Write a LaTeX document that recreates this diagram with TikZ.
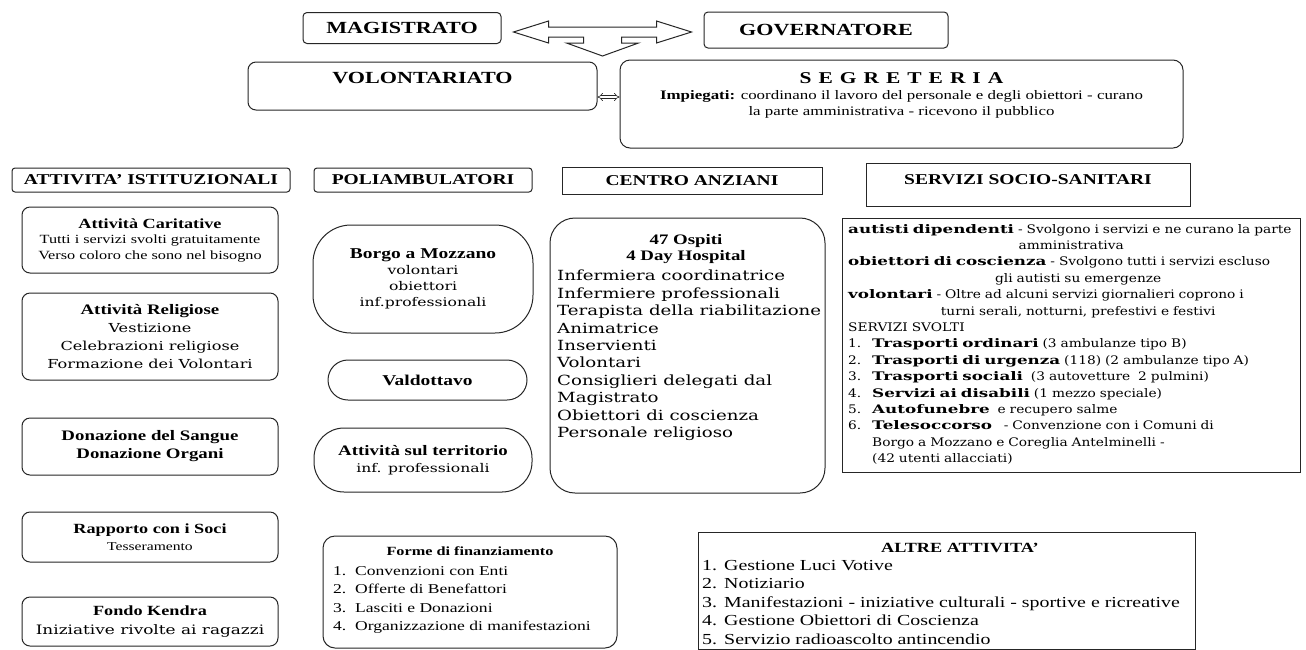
\documentclass[tikz,border=0pt]{standalone}
\usepackage{fontspec}
\setmainfont[FakeStretch=1.3]{Liberation Serif}
\newfontfamily\bkfont[FakeStretch=1.3]{DejaVu Serif}
\newfontfamily\svfont[FakeStretch=1.165]{DejaVu Serif}
\newfontfamily\svbold[FakeStretch=1.42]{DejaVu Serif Bold}
\usetikzlibrary{arrows.meta,positioning,calc}
\setlength{\parindent}{0pt}
\newcommand{\fsz}[2]{\fontsize{#1pt}{#2pt}\selectfont}
\newcommand{\numlbl}[2][22pt]{\makebox[#1][l]{#2}}
\newcommand{\svb}[1]{{\svbold #1}}
\newcommand{\ctrline}[1]{\makebox[\linewidth][c]{#1}}

\begin{document}
\begin{tikzpicture}[x=1pt, y=-1pt,
  rbox/.style={draw=black!85, line width=1pt, rounded corners=#1, align=center, inner sep=0pt},
  rbox/.default=6pt,
  sbox/.style={draw=black!85, line width=1pt, align=center, inner sep=0pt},
  txt/.style={inner sep=0pt, align=center},
  ttl/.style={font=\fsz{17}{20}\bfseries},
  hdr/.style={font=\fsz{15}{18}\bfseries},
  blk/.style={draw=black!85, line width=1pt, line join=miter, fill=white},
  dbl/.style={draw=black!85, double, double distance=2.2pt, line width=0.6pt, {Implies}-{Implies}}
]
  \path[fill=white, use as bounding box] (0,0) rectangle (1306,649);

  % Vertice
  \node[rbox=4pt, ttl, minimum width=198pt, minimum height=31pt] (magi) at (402,28) {MAGISTRATO};
  \node[rbox=4pt, ttl, minimum width=244pt, minimum height=36pt] (gov) at (826,30) {GOVERNATORE};

  % Freccia a tre punte
  \coordinate (arrL) at ([xshift=12pt, yshift=-4pt]magi.east);
  \draw[blk] (arrL) -- ++(35,-11) -- ++(0,6) -- ++(108,0) -- ++(0,-6) -- ++(35,11)
    -- ++(-35,11) -- ++(0,-6) -- ++(-35,0) -- ++(0,6) -- ++(17,0) -- ++(-36,13)
    -- ++(-36,-13) -- ++(17,0) -- ++(0,-6) -- ++(-35,0) -- ++(0,6) -- cycle;

  % Volontariato e segreteria
  \node[rbox=8pt, minimum width=349pt, minimum height=48pt] (volo) at (422.5,86) {};
  \node[txt, ttl, below=11pt of volo.north] (voloT) {VOLONTARIATO};

  \node[rbox=10pt, minimum width=563pt, minimum height=88pt] (segr) at (901.5,104) {};
  \node[txt, font={\fsz{16.5}{18}\bfseries\spaceskip=7pt\relax}, below=13pt of segr.north] (segrT) {S E G R E T E R I A};
  \node[txt, font=\fsz{13}{16}, below=6pt of segrT] (segrD)
    {\textbf{Impiegati:} coordinano il lavoro del personale e degli obiettori - curano\\la parte amministrativa - ricevono il pubblico};

  \draw[dbl] ([yshift=-11pt]volo.east) -- ([yshift=-11pt]volo.east -| segr.west);

  % Intestazioni di colonna
  \node[rbox=3pt, hdr, minimum width=278pt, minimum height=24pt] (hIst) at (151,180) {ATTIVITA' ISTITUZIONALI};
  \node[rbox=3pt, hdr, minimum width=218pt, minimum height=24pt] (hPoli) at (423,180) {POLIAMBULATORI};
  \node[sbox, hdr, minimum width=260pt, minimum height=27pt] (hCen) at (692,180.5) {CENTRO ANZIANI};
  \node[sbox, minimum width=324pt, minimum height=43pt] (hSer) at (1028,184.5) {};
  \node[txt, hdr] (hSerT) at (1028,180) {SERVIZI SOCIO-SANITARI};

  % Attivita' istituzionali
  \node[rbox=8pt, minimum width=256pt, minimum height=66pt, font=\fsz{12.5}{15.5}] (carit) at (150,240)
    {{\fsz{14}{15.5}\bfseries Attività Caritative}\\Tutti i servizi svolti gratuitamente\\Verso coloro che sono nel bisogno};
  \node[rbox=8pt, minimum width=256pt, minimum height=87pt, font=\bkfont\fsz{12.4}{17.7}] (relig) at (150,336.5)
    {{\rmfamily\fsz{14.5}{17.7}\bfseries Attività Religiose}\\Vestizione\\Celebrazioni religiose\\Formazione dei Volontari};
  \node[rbox=8pt, minimum width=256pt, minimum height=57pt, font=\fsz{14.5}{18}\bfseries] (donaz) at (150,446.5)
    {Donazione del Sangue\\Donazione Organi};
  \node[rbox=8pt, minimum width=256pt, minimum height=50pt, font=\fsz{12}{17}] (rapp) at (150,537)
    {{\fsz{14}{17}\bfseries Rapporto con i Soci}\\Tesseramento};
  \node[rbox=8pt, minimum width=256pt, minimum height=49pt, font=\bkfont\fsz{13}{19}] (fondo) at (150,621.5)
    {{\rmfamily\fsz{14}{19}\bfseries Fondo Kendra}\\Iniziative rivolte ai ragazzi};

  % Poliambulatori
  \node[rbox=38pt, minimum width=220pt, minimum height=108pt, font=\bkfont\fsz{12}{16}] (borgo) at (423,279)
    {{\rmfamily\fsz{15}{16}\bfseries Borgo a Mozzano}\\volontari\\obiettori\\inf.professionali};
  \node[rbox=20pt, minimum width=199pt, minimum height=40pt, font=\fsz{15}{17}\bfseries] (valdo) at (427.5,380) {Valdottavo};
  \node[rbox=30pt, minimum width=218pt, minimum height=64pt, font=\bkfont\fsz{12}{17}] (terr) at (423,460)
    {{\rmfamily\fsz{14.5}{17}\bfseries Attività sul territorio}\\inf. professionali};

  % Centro anziani
  \node[rbox=25pt, minimum width=275pt, minimum height=275pt] (cdet) at (687.5,355.5) {};
  \node[txt, font=\fsz{14.5}{16}\bfseries, anchor=north] (cdetT) at (686,234) {47 Ospiti\\4 Day Hospital};
  \node[txt, align=left, anchor=north west, font=\bkfont\fsz{14}{17.4}] (cdetL) at (557,270)
    {Infermiera coordinatrice\\Infermiere professionali\\Terapista della riabilitazione\\Animatrice\\Inservienti\\Volontari\\Consiglieri delegati dal\\Magistrato\\Obiettori di coscienza\\Personale religioso};

  % Servizi socio-sanitari
  \node[sbox, minimum width=458pt, minimum height=254pt] (sdet) at (1071,345) {};
  \node[txt, align=left, text width=452pt, anchor=north west, font=\svfont\fsz{11.8}{16.4}] (sdetT) at (845,224)
    {\hspace*{3pt}\svb{autisti dipendenti} - Svolgono i servizi e ne curano la parte\\
     \ctrline{amministrativa}\\
     \hspace*{3pt}\svb{obiettori di coscienza} - Svolgono tutti i servizi escluso\\
     \ctrline{\hspace*{14pt}gli autisti su emergenze}\\
     \hspace*{3pt}\svb{volontari} - Oltre ad alcuni servizi giornalieri coprono i\\
     \ctrline{\hspace*{14pt}turni serali, notturni, prefestivi e festivi}\\
     \hspace*{3pt}SERVIZI SVOLTI\\
     \hspace*{3pt}\numlbl[24pt]{1.}\svb{Trasporti ordinari} (3 ambulanze tipo B)\\
     \hspace*{3pt}\numlbl[24pt]{2.}\svb{Trasporti di urgenza} (118) (2 ambulanze tipo A)\\
     \hspace*{3pt}\numlbl[24pt]{3.}\svb{Trasporti sociali}\ \ (3 autovetture\ \ 2 pulmini)\\
     \hspace*{3pt}\numlbl[24pt]{4.}\svb{Servizi ai disabili} (1 mezzo speciale)\\
     \hspace*{3pt}\numlbl[24pt]{5.}\svb{Autofunebre}\ \ e recupero salme\\
     \hspace*{3pt}\numlbl[24pt]{6.}\svb{Telesoccorso}\ \ \ - Convenzione con i Comuni di\\
     \hspace*{27pt}Borgo a Mozzano e Coreglia Antelminelli -\\
     \hspace*{27pt}(42 utenti allacciati)};

  % Finanziamento
  \node[rbox=12pt, minimum width=294pt, minimum height=112pt] (forme) at (470,592) {};
  \node[txt, font=\fsz{12.5}{16}\bfseries, below=11pt of forme.north] (formeT) {Forme di finanziamento};
  \node[txt, align=left, anchor=north west, font=\fsz{13.5}{18.5}] (formeL) at (333,566)
    {\numlbl{1.}Convenzioni con Enti\\\numlbl{2.}Offerte di Benefattori\\\numlbl{3.}Lasciti e Donazioni\\\numlbl{4.}Organizzazione di manifestazioni};

  % Altre attivita'
  \node[sbox, minimum width=497pt, minimum height=117pt] (altre) at (946.5,590.5) {};
  \node[txt, font=\fsz{14}{16}\bfseries] (altreT) at (960,548) {ALTRE ATTIVITA'};
  \node[txt, align=left, anchor=north west, font=\fsz{15.3}{18.5}] (altreL) at (702,560)
    {\numlbl{1.}Gestione Luci Votive\\\numlbl{2.}Notiziario\\\numlbl{3.}Manifestazioni - iniziative culturali - sportive e ricreative\\\numlbl{4.}Gestione Obiettori di Coscienza\\\numlbl{5.}Servizio radioascolto antincendio};
\end{tikzpicture}
\end{document}
